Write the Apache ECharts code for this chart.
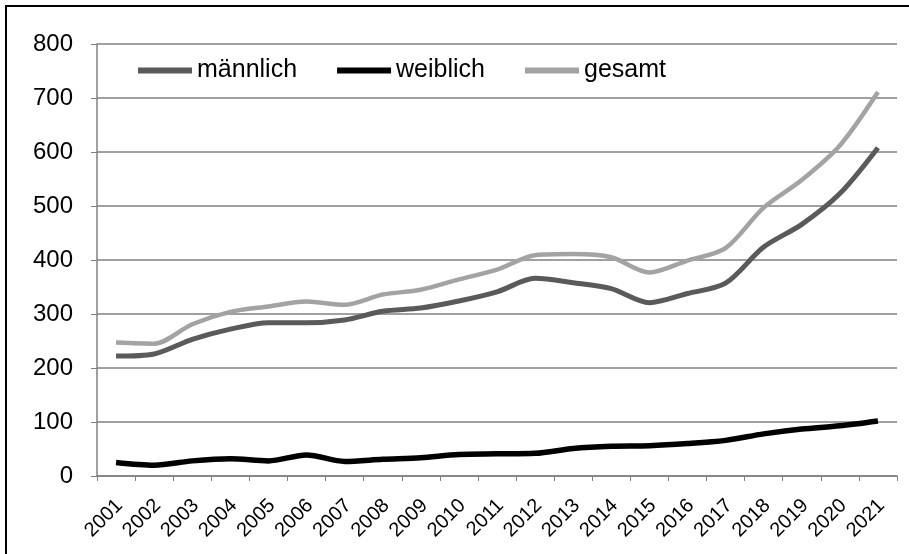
<!DOCTYPE html>
<html>
<head>
<meta charset="utf-8">
<script src="https://cdn.jsdelivr.net/npm/echarts@6/dist/echarts.min.js"></script>
<style>html,body{margin:0;padding:0;background:#fff}#c{width:909px;height:554px}</style>
</head>
<body>
<div id="c"></div>
<script>
const years = ['2001','2002','2003','2004','2005','2006','2007','2008','2009','2010','2011','2012','2013','2014','2015','2016','2017','2018','2019','2020','2021'];
const maennlich = [222,226,253,272,284,284,289,305,311,324,341,366,358,347,321,338,357,424,466,523,608];
const weiblich  = [25,20,28,32,28,39,27,31,34,40,41,42,51,55,56,60,66,78,87,93,102];
const gesamt    = [247,245,281,304,314,323,317,336,345,364,382,409,411,405,377,399,422,497,548,612,711];
const yTicks = [0,100,200,300,400,500,600,700,800];

const FONT = "'Liberation Sans',Arial,sans-serif";
const chart = echarts.init(document.getElementById('c'), null, {renderer:'canvas'});
chart.setOption({
  animation:false,
  backgroundColor:'#fff',
  graphic:[
    {type:'line', shape:{x1:5,y1:6,x2:909,y2:6}, style:{stroke:'#000',lineWidth:2}},
    {type:'line', shape:{x1:6,y1:6,x2:6,y2:554}, style:{stroke:'#000',lineWidth:2}}
  ],
  grid:{left:97,right:12,top:44,bottom:78,containLabel:false},
  legend:{
    left:133, top:53, itemWidth:54, itemHeight:6, itemGap:40, icon:'rect',
    textStyle:{fontFamily:FONT,fontSize:25,color:'#000'},
    data:['männlich','weiblich','gesamt']
  },
  xAxis:{
    type:'category', data:years, boundaryGap:true,
    axisLine:{lineStyle:{color:'#808080',width:1.5}},
    axisTick:{show:true,length:5,interval:0,lineStyle:{color:'#808080'}},
    axisLabel:{interval:0,rotate:45,margin:30,padding:[5,-5,-5,0],fontFamily:FONT,fontSize:20,color:'#000'}
  },
  yAxis:{
    type:'value', min:0, max:800, interval:100,
    axisLine:{show:true,lineStyle:{color:'#808080',width:1.5}},
    axisTick:{show:true,length:6,lineStyle:{color:'#808080'}},
    axisLabel:{margin:24,fontFamily:FONT,fontSize:24,color:'#000',padding:[5,0,0,0],
      formatter:v=>yTicks.includes(v)?String(v):''},
    splitLine:{lineStyle:{color:'#808080',width:1.5}}
  },
  series:[
    {name:'männlich',type:'line',data:maennlich,smooth:0.3,symbol:'none',
      lineStyle:{color:'#5a5a5a',width:5},itemStyle:{color:'#5a5a5a'}},
    {name:'weiblich',type:'line',data:weiblich,smooth:0.3,symbol:'none',
      lineStyle:{color:'#000',width:5.5},itemStyle:{color:'#000'}},
    {name:'gesamt',type:'line',data:gesamt,smooth:0.3,symbol:'none',
      lineStyle:{color:'#a3a3a3',width:4.5},itemStyle:{color:'#a3a3a3'}}
  ]
});
</script>
</body>
</html>
